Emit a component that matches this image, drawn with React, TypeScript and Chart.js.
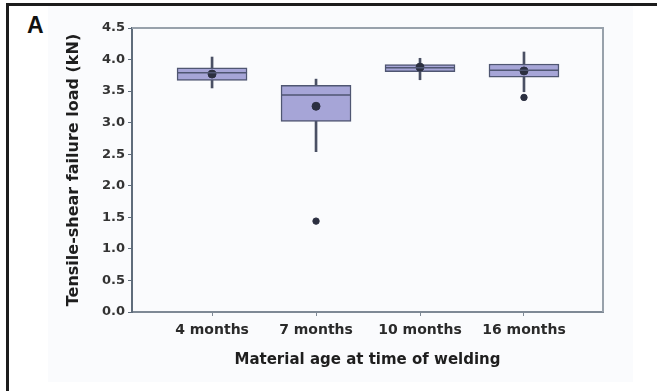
import React, { useEffect, useRef } from "react";
import { Chart, registerables } from "chart.js";

Chart.register(...registerables);

const categories = ["4 months", "7 months", "10 months", "16 months"];
const q1 = [3.67, 3.02, 3.81, 3.72];
const q3 = [3.87, 3.59, 3.92, 3.93];
const medians = [3.79, 3.44, 3.87, 3.83];
const whiskerLow = [3.55, 2.54, 3.68, 3.49];
const whiskerHigh = [4.04, 3.69, 4.02, 4.12];
const means = [3.77, 3.26, 3.88, 3.82];
const outlierCats = [1, 3];
const outlierVals = [1.44, 3.4];
const yTicks = [0, 0.5, 1, 1.5, 2, 2.5, 3, 3.5, 4, 4.5];

const FONT = "'DejaVu Sans', 'Liberation Sans', sans-serif";
const AXIS_COLOR = "#7e8995";
const BOX_FILL = "#a6a5d7";
const BOX_EDGE = "#4f5672";
const DARK = "#2b2f40";

const plotFrame = {
  id: "plotFrame",
  afterDraw(chart: any) {
    const { ctx, chartArea } = chart;
    ctx.save();
    ctx.strokeStyle = "#98a1ab";
    ctx.lineWidth = 2;
    ctx.beginPath();
    ctx.moveTo(chartArea.left, chartArea.top);
    ctx.lineTo(chartArea.right, chartArea.top);
    ctx.lineTo(chartArea.right, chartArea.bottom);
    ctx.stroke();
    ctx.restore();
  },
};

const medianLines = {
  id: "medianLines",
  afterDatasetsDraw(chart: any) {
    const { ctx } = chart;
    const meta = chart.getDatasetMeta(1);
    const y = chart.scales.y;
    ctx.save();
    ctx.strokeStyle = BOX_EDGE;
    ctx.lineWidth = 1.5;
    meta.data.forEach((bar: any, i: number) => {
      const py = y.getPixelForValue(medians[i]);
      ctx.beginPath();
      ctx.moveTo(bar.x - bar.width / 2, py);
      ctx.lineTo(bar.x + bar.width / 2, py);
      ctx.stroke();
    });
    ctx.restore();
  },
};

export default function App() {
  const ref = useRef<HTMLCanvasElement>(null);

  useEffect(() => {
    if (!ref.current) return;
    const chart = new Chart(ref.current, {
      type: "bar",
      data: {
        datasets: [
          {
            type: "bar",
            label: "whiskers",
            data: categories.map((_, i) => ({ x: i, y: [whiskerLow[i], whiskerHigh[i]] })),
            backgroundColor: "#4a5064",
            barThickness: 2,
            grouped: false,
            order: 3,
          } as any,
          {
            type: "bar",
            label: "boxes",
            data: categories.map((_, i) => ({ x: i, y: [q1[i], q3[i]] })),
            backgroundColor: BOX_FILL,
            borderColor: BOX_EDGE,
            borderWidth: 1.5,
            borderSkipped: false,
            barThickness: 70,
            grouped: false,
            order: 2,
          } as any,
          {
            type: "scatter",
            label: "means",
            data: categories.map((_, i) => ({ x: i, y: means[i] })),
            backgroundColor: DARK,
            borderColor: DARK,
            pointRadius: 4,
            showLine: false,
            order: 0,
          } as any,
          {
            type: "scatter",
            label: "outliers",
            data: outlierCats.map((c, i) => ({ x: c, y: outlierVals[i] })),
            backgroundColor: DARK,
            borderColor: DARK,
            pointRadius: 3.2,
            showLine: false,
            order: 0,
          } as any,
        ],
      },
      options: {
        animation: false,
        responsive: false,
        events: [],
        layout: { padding: { left: 60, right: 54, top: 28, bottom: 15 } },
        plugins: { legend: { display: false }, tooltip: { enabled: false } },
        scales: {
          x: {
            type: "linear",
            min: -0.77,
            max: 3.76,
            offset: false,
            afterBuildTicks: (s: any) => {
              s.ticks = categories.map((_, i) => ({ value: i }));
            },
            afterFit: (s: any) => {
              s.height = 64;
            },
            ticks: {
              autoSkip: false,
              maxRotation: 0,
              padding: 6,
              color: "#2a2a2a",
              font: { family: FONT, size: 14, weight: "bold" },
              callback: (v: any) => categories[v] ?? "",
            },
            grid: { drawOnChartArea: false, drawTicks: true, tickLength: 4, color: AXIS_COLOR, offset: false },
            border: { color: AXIS_COLOR, width: 2 },
            title: {
              display: true,
              text: "Material age at time of welding",
              color: "#1e1e1e",
              font: { family: FONT, size: 15, weight: "bold" },
              padding: { top: 0, bottom: 7 },
            },
          },
          y: {
            type: "linear",
            min: 0,
            max: 4.5,
            afterBuildTicks: (s: any) => {
              s.ticks = yTicks.map((v) => ({ value: v }));
            },
            afterFit: (s: any) => {
              s.width = 72;
            },
            ticks: {
              padding: 3,
              color: "#333333",
              font: { family: FONT, size: 13, weight: "bold" },
              callback: (v: any) => Number(v).toFixed(1),
            },
            grid: { drawOnChartArea: false, drawTicks: true, tickLength: 4, color: "#5f6c7b" },
            border: { color: "#5f6c7b", width: 2 },
            title: {
              display: true,
              text: "Tensile-shear failure load (kN)",
              color: "#1e1e1e",
              font: { family: FONT, size: 16, weight: "bold" },
              padding: { top: 4, bottom: 0 },
            },
          },
        },
      } as any,
      plugins: [plotFrame, medianLines],
    });
    return () => chart.destroy();
  }, []);

  return (
    <div style={{ position: "fixed", left: 0, top: 0, width: 657, height: 391, background: "#ffffff", overflow: "hidden" }}>
      <div style={{ position: "absolute", left: 48, top: 6, width: 585, height: 376, background: "#fafbfd" }} />
      <div
        style={{
          position: "absolute",
          left: 6,
          top: 3,
          width: 700,
          height: 500,
          borderTop: "3px solid #1c1c1c",
          borderLeft: "3px solid #1c1c1c",
        }}
      />
      <div
        style={{
          position: "absolute",
          left: 27,
          top: 14,
          fontFamily: "'Liberation Sans', Arial, sans-serif",
          fontWeight: "bold",
          fontSize: 23,
          lineHeight: "23px",
          color: "#111",
        }}
      >
        A
      </div>
      <canvas ref={ref} width={657} height={391} style={{ position: "absolute", left: 0, top: 0, width: 657, height: 391 }} />
    </div>
  );
}
